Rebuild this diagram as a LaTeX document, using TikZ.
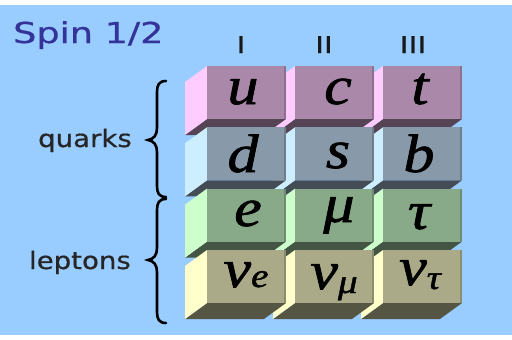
\documentclass[tikz,border=0pt]{standalone}
\usepackage{fontspec}
\setmainfont{DejaVu Sans}
\newfontfamily\ltx[FakeBold=1.2, ItalicFeatures={FakeBold=1.2}]{Liberation Serif}
\newfontfamily\lbl[FakeBold=0.6]{DejaVu Sans}
\usepackage{graphicx}
\definecolor{bg}{HTML}{99CCFF}
\definecolor{spinblue}{HTML}{333399}
\definecolor{qaF}{HTML}{AA88AA}\definecolor{qaS}{HTML}{FFCCFF}\definecolor{qaB}{HTML}{554455}
\definecolor{qbF}{HTML}{8899AA}\definecolor{qbS}{HTML}{CCEEFF}\definecolor{qbB}{HTML}{444C55}
\definecolor{laF}{HTML}{88AA88}\definecolor{laS}{HTML}{CCFFCC}\definecolor{laB}{HTML}{445544}
\definecolor{lbF}{HTML}{AAAA88}\definecolor{lbS}{HTML}{FFFFCC}\definecolor{lbB}{HTML}{555544}
\newcommand\blk[3]{%
  \fill[#3B] (#1,#2+53) -- ++(79,0) -- ++(-22,16) -- ++(-79,0) -- cycle;
  \fill[#3S] (#1,#2) -- ++(0,53) -- ++(-22,16) -- ++(0,-53) -- cycle;
  \fill[#3F] (#1,#2) rectangle ++(79,53);
  \fill[#3B, opacity=0.35] (#1+77,#2) rectangle ++(2,53);
}
\newcommand\gl[1]{\scalebox{1.15}[1]{\ltx\itshape #1}}
\newcommand\sfx[2]{\scalebox{#1}[1]{\lbl #2}}
\tikzset{
  lett/.style={anchor=base, inner sep=0pt, font=\fontsize{54}{60}\selectfont},
  gen/.style={anchor=base, inner sep=0pt, font=\fontsize{23}{26}\selectfont, text=black!90},
  grp/.style={anchor=base east, inner sep=0pt, font=\fontsize{24}{28}\selectfont, text=black!85},
  brc/.style={line width=2.6pt, black, line cap=round}
}
\begin{document}
\begin{tikzpicture}[x=1pt,y=-1pt]
\useasboundingbox (0,0) rectangle (512,340);
\fill[white] (0,0) rectangle (512,340);
\fill[bg] (0,5) rectangle (512,335);
% blocks: rows top to bottom, columns right to left
\foreach \r/\y in {qa/66, qb/127.3, la/188.6, lb/250}{
  \foreach \x in {383,295,207}{
    \blk{\x}{\y}{\r}
  }
}
% letters
\node[lett] (u) at (243,104) {\gl{u}};
\node[lett] (c) at (338,104) {\gl{c}};
\node[lett] (t) at (420,104) {\gl{t}};
\node[lett] (d) at (243,172) {\gl{d}};
\node[lett] (s) at (338,168) {\gl{s}};
\node[lett] (b) at (419,172) {\gl{b}};
\node[lett] (e) at (248,226) {\gl{e}};
\node[lett] (mu) at (339,222) {\gl{μ}};
\node[lett] (tau) at (419,229) {\gl{τ}};
\node[lett] (ve) at (246,287) {\gl{ν\fontsize{34}{36}\selectfont e}};
\node[lett] (vm) at (334,289) {\gl{ν\raisebox{-4pt}{\fontsize{34}{36}\selectfont μ}}};
\node[lett] (vt) at (420,285) {\gl{ν\raisebox{-4pt}{\fontsize{34}{36}\selectfont τ}}};
% labels
\node[anchor=base west, inner sep=0pt, text=spinblue, font=\fontsize{28.8}{32}\selectfont] (spin) at (13,43) {\sfx{1.27}{Spin 1/2}};
\node[gen] (g1) at (241,53) {\sfx{1.3}{I}};
\node[gen] (g2) at (324,53) {\sfx{1.3}{II}};
\node[gen] (g3) at (413,53) {\sfx{1.3}{III}};
\node[grp] (quarks) at (132,147) {\sfx{1.15}{quarks}};
\node[grp] (leptons) at (131,269) {\sfx{1.15}{leptons}};
% braces
\draw[brc] (166,81) .. controls (159,81) and (157,85) .. (157,92) -- (157,128)
  .. controls (157,135) and (154,139) .. (148,140)
  .. controls (154,141) and (157,145) .. (157,152) -- (157,186)
  .. controls (157,193) and (159,197) .. (166,197);
\draw[brc] (166,199) .. controls (159,199) and (157,203) .. (157,210) -- (157,248)
  .. controls (157,255) and (154,259) .. (148,260)
  .. controls (154,261) and (157,265) .. (157,272) -- (157,312)
  .. controls (157,319) and (159,323) .. (166,323);
\end{tikzpicture}
\end{document}
